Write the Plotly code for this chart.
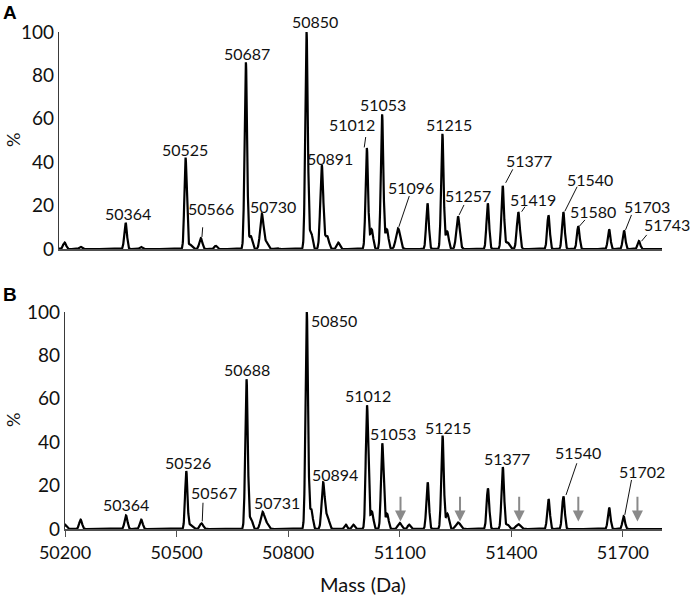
import numpy as np
import plotly.graph_objects as go

# ---------------- data ----------------
# Panel A: deconvoluted peaks (mass in Da, relative intensity %, peak sigma in Da)
a_mass = [50200, 50243, 50364, 50405, 50525, 50537, 50566, 50606, 50687, 50700,
          50730, 50742, 50770, 50850, 50862, 50891, 50905, 50935, 51012, 51025,
          51053, 51066, 51096, 51175, 51215, 51228, 51257, 51337, 51377, 51390,
          51419, 51500, 51540, 51580, 51663, 51703, 51743]
a_int = [3, 1, 12, 1, 42, 2, 5, 1.5, 86, 6,
         16, 3, 0.5, 100, 8, 38.5, 6, 3, 46.5, 9,
         62, 9, 9.5, 21, 53, 8, 15, 21, 29, 3,
         17, 15.5, 17, 10.5, 9, 8.5, 3.7]
a_sigma = [4, 3.5, 3.5, 3.5, 3.2, 5, 4, 3.5, 3.4, 4,
           4.5, 5, 3.5, 3.4, 4, 4, 5, 4, 3.4, 4,
           3.4, 4, 5.5, 3.5, 3.4, 4, 4.5, 3.5, 3.5, 5,
           4, 3.5, 3.5, 3.5, 3.5, 3.5, 3.5]

# Panel B
b_mass = [50200, 50242, 50364, 50405, 50526, 50537, 50567, 50688, 50700, 50731,
          50742, 50850, 50862, 50894, 50905, 50955, 50975, 51012, 51025, 51053,
          51066, 51100, 51125, 51175, 51215, 51228, 51257, 51337, 51377, 51390,
          51419, 51500, 51540, 51663, 51702]
b_int = [2, 4.3, 6.2, 4.3, 26.5, 2, 2.6, 69, 5, 7.7,
         2.5, 100, 9, 21, 6, 2, 2, 57, 8, 39.5,
         7, 2.8, 2, 21.5, 43, 7, 3, 18.7, 28.5, 2,
         2.2, 13.8, 15, 9.8, 5.8]
b_sigma = [4, 3.8, 3.8, 3.8, 3.2, 5, 4.5, 3.4, 4, 5,
           5, 3.4, 4, 4, 5, 3.5, 3.5, 3.4, 4, 3.4,
           4, 5, 3.5, 3.5, 3.4, 4, 6, 3.5, 3.5, 4,
           6, 3.5, 3.5, 3.5, 3.5]

# Labelled peaks: (text, label mass, label %, leader from (mass,%) to (mass,%)) or None
a_labels = [
    ("50364", 50371, 16.4, None),
    ("50525", 50524, 45.9, None),
    ("50566", 50593, 18.7, (50571, 10.0, 50569, 5.5)),
    ("50687", 50689, 90.2, None),
    ("50730", 50761, 19.5, None),
    ("50850", 50873, 104.8, None),
    ("50891", 50913, 41.8, None),
    ("51012", 50971, 57.5, (51009, 51.6, 51005, 46.8)),
    ("51053", 51056, 66.8, None),
    ("51096", 51132, 28.4, (51126, 24.4, 51098, 10.2)),
    ("51215", 51234, 57.5, None),
    ("51257", 51285, 24.6, (51273, 20.3, 51260, 15.7)),
    ("51377", 51448, 40.7, (51404, 36.7, 51385, 30.5)),
    ("51419", 51458, 22.9, (51437, 19.5, 51428, 17.2)),
    ("51540", 51611, 32.1, (51577, 28.7, 51544, 17.4)),
    ("51580", 51620, 17.2, (51598, 13.4, 51583, 10.5)),
    ("51703", 51764, 19.5, (51723, 15.7, 51707, 8.8)),
    ("51743", 51818, 11.1, (51764, 6.5, 51750, 3.6)),
]
b_labels = [
    ("50364", 50365, 11.1, None),
    ("50526", 50531, 30.6, None),
    ("50567", 50600, 16.9, (50571, 12.1, 50569, 3.5)),
    ("50688", 50689, 73.6, None),
    ("50731", 50770, 12.1, None),
    ("50850", 50922, 96.3, None),
    ("50894", 50925, 25.2, None),
    ("51012", 51014, 61.3, None),
    ("51053", 51083, 44.1, None),
    ("51215", 51231, 46.7, None),
    ("51377", 51388, 32.6, None),
    ("51540", 51578, 35.2, (51576, 30.3, 51547, 15.7)),
    ("51702", 51750, 26.7, (51723, 22.6, 51705, 6.5)),
]
# grey arrows marking missing peaks in panel B
b_arrow_mass = [51102, 51262, 51421, 51580, 51739]

x_ticks = [50200, 50500, 50800, 51100, 51400, 51700]
y_ticks = [0, 20, 40, 60, 80, 100]

# ---------------- build spectra ----------------
grid = np.arange(50180, 51806, 0.5)


def spectrum(mass, inten, sigma):
    m = np.asarray(mass, float)[:, None]
    h = np.asarray(inten, float)[:, None]
    s = np.asarray(sigma, float)[:, None]
    return (h * np.exp(-0.5 * ((grid[None, :] - m) / s) ** 2)).sum(axis=0)


ya = spectrum(a_mass, a_int, a_sigma)
yb = spectrum(b_mass, b_int, b_sigma)

FONT = "Lato, 'Open Sans', sans-serif"
TXT = "#111111"
W, H = 693, 599
XMAX = 51805
PX_PER_DA = (662 - 65) / (XMAX - 50200)
PX_PER_PCT = 217 / 100


def px(v):      # screen x (pixels) -> paper fraction
    return v / W


def py(v):      # screen y (pixels from top) -> paper fraction
    return 1 - v / H


fig = go.Figure()
fig.add_trace(go.Scatter(x=grid, y=ya, mode="lines", line=dict(color="black", width=2.2),
                         xaxis="x", yaxis="y", showlegend=False, hoverinfo="skip"))
fig.add_trace(go.Scatter(x=grid, y=yb, mode="lines", line=dict(color="black", width=2.2),
                         xaxis="x2", yaxis="y2", showlegend=False, hoverinfo="skip"))

axcol = "#3a3a3a"
common_y = dict(range=[0, 100], tickvals=y_ticks, showgrid=False, zeroline=False,
                showline=True, linecolor=axcol, linewidth=1.2, ticks="", automargin=False,
                tickfont=dict(family=FONT, size=19, color=TXT))

fig.update_layout(
    width=W, height=H,
    margin=dict(l=0, r=0, t=0, b=0),
    paper_bgcolor="white", plot_bgcolor="white",
    xaxis=dict(domain=[px(59), px(662)], range=[50185, XMAX], anchor="y", automargin=False,
               showgrid=False, zeroline=False, showline=True, linecolor="#505050",
               linewidth=2, ticks="", showticklabels=False),
    yaxis=dict(domain=[py(249), py(32)], anchor="x", **common_y),
    xaxis2=dict(domain=[px(65), px(662)], range=[50200, XMAX], anchor="y2", automargin=False,
                showgrid=False, zeroline=False, showline=True, linecolor="#505050",
                linewidth=2, ticks="outside", ticklen=6, tickwidth=1.2, tickcolor="#505050",
                tickvals=x_ticks, ticktext=[str(v) for v in x_ticks],
                tickfont=dict(family=FONT, size=18, color=TXT)),
    yaxis2=dict(domain=[py(529), py(312)], anchor="x2", **common_y),
)

annotations = []
shapes = []


def add_labels(labels, xr, yr):
    for text, lx, ly, leader in labels:
        x = min(lx, XMAX - 1)
        y = min(ly, 99.5)
        annotations.append(dict(x=x, y=y, xref=xr, yref=yr, text=text, showarrow=False,
                                xshift=(lx - x) * PX_PER_DA, yshift=(ly - y) * PX_PER_PCT,
                                font=dict(family=FONT, size=16, color=TXT),
                                xanchor="center", yanchor="middle"))
        if leader is not None:
            x0, y0, x1, y1 = leader
            shapes.append(dict(type="line", xref=xr, yref=yr, x0=x0, y0=y0, x1=x1, y1=y1,
                               line=dict(color=TXT, width=1)))


add_labels(a_labels, "x", "y")
add_labels(b_labels, "x2", "y2")

for m in b_arrow_mass:
    annotations.append(dict(x=m, y=3.5, xref="x2", yref="y2", ax=m, ay=15.5,
                            axref="x2", ayref="y2", text="", showarrow=True,
                            arrowhead=2, arrowsize=1.1, arrowwidth=2, arrowcolor="#8a8a8a"))

# panel letters, axis titles
annotations += [
    dict(x=px(1), y=py(12), xref="paper", yref="paper", text="<b>A</b>", showarrow=False,
         font=dict(family="Arial, 'Liberation Sans', sans-serif", size=19, color="black"),
         xanchor="left", yanchor="middle"),
    dict(x=px(1), y=py(294), xref="paper", yref="paper", text="<b>B</b>", showarrow=False,
         font=dict(family="Arial, 'Liberation Sans', sans-serif", size=19, color="black"),
         xanchor="left", yanchor="middle"),
    dict(x=px(13), y=py(140), xref="paper", yref="paper", text="%", textangle=-90,
         showarrow=False, font=dict(family=FONT, size=18, color=TXT),
         xanchor="center", yanchor="middle"),
    dict(x=px(13), y=py(420), xref="paper", yref="paper", text="%", textangle=-90,
         showarrow=False, font=dict(family=FONT, size=18, color=TXT),
         xanchor="center", yanchor="middle"),
    dict(x=px(363), y=py(584), xref="paper", yref="paper", text="Mass (Da)",
         showarrow=False, font=dict(family=FONT, size=20, color=TXT),
         xanchor="center", yanchor="middle"),
]

fig.update_layout(annotations=annotations, shapes=shapes)
# remove the default 8px page margin so the figure sits at the window's top-left corner
fig.write_html("out.html", config={"displayModeBar": False},
               post_script="document.body.style.margin='0';")
